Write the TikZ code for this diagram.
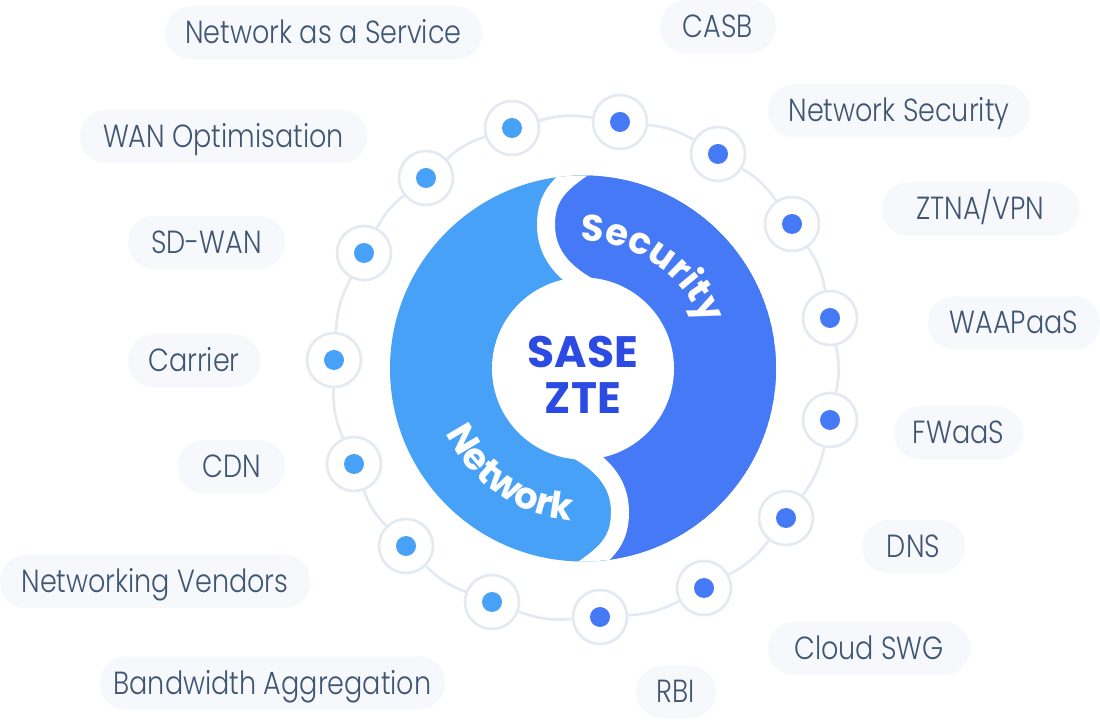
\documentclass[tikz,border=0pt]{standalone}
\usepackage{fontspec}
\usetikzlibrary{decorations.text,calc}
\newfontfamily\lblfont{Poppins Light}[FakeStretch=0.845]
\newfontfamily\boldfont{Poppins}
\definecolor{netblue}{HTML}{47A1F7}
\definecolor{secblue}{HTML}{4679F5}
\definecolor{coretext}{HTML}{2C4BE3}
\definecolor{ringgray}{HTML}{E3EAF2}
\definecolor{pillbg}{HTML}{F6F8FB}
\definecolor{lbltext}{HTML}{3F5673}
\tikzset{
  dotbase/.style={circle, draw=ringgray, line width=2.7pt, fill=white, minimum size=54pt, inner sep=0pt},
  dotL/.style={dotbase, path picture={\fill[netblue] (path picture bounding box.center) circle (10pt);}},
  dotR/.style={dotbase, path picture={\fill[secblue] (path picture bounding box.center) circle (10pt);}},
  pill/.style={fill=pillbg, rounded corners=26pt, minimum height=53pt, inner xsep=0pt, inner ysep=0pt,
    text=lbltext, text height=22pt, text depth=0pt, font=\lblfont\fontsize{32}{38}\selectfont},
  link/.style={draw=ringgray, line width=2.7pt},
  gap/.style={draw=white, line width=18pt}
}
\begin{document}
\begin{tikzpicture}[x=1pt,y=1pt]
\useasboundingbox (0,0) rectangle (1100,720);
\fill[white] (0,0) rectangle (1100,720);

% central ring
\coordinate (C) at (583,351.5);
\begin{scope}
  \clip (C) circle (193);
  \fill[netblue] (C) circle (193);
  \fill[secblue] (595,560) .. controls (560,538) and (546,525) .. (546,495)
    .. controls (546,465) and (565,445) .. (595,430) -- (571,273)
    .. controls (601,258) and (620,238) .. (620,208)
    .. controls (620,178) and (606,165) .. (571,143)
    -- (571,100) -- (820,100) -- (820,600) -- (595,600) -- cycle;
  \draw[gap] (595,560) .. controls (560,538) and (546,525) .. (546,495)
    .. controls (546,465) and (565,445) .. (595,430);
  \draw[gap] (571,143) .. controls (606,165) and (620,178) .. (620,208)
    .. controls (620,238) and (601,258) .. (571,273);
\end{scope}
\fill[white] (C) circle (91);

\path[decorate, decoration={text along path, text align=center, text color=white,
  text={|\boldfont\bfseries\fontsize{37}{42}\selectfont|Security}}]
  ($(C)+(98:127)$) arc[start angle=98, end angle=13, radius=127];
\path[decorate, decoration={text along path, text align=center, text color=white,
  text={|\boldfont\bfseries\fontsize{37}{42}\selectfont|Network}}]
  ($(C)+(193:152)$) arc[start angle=193, end angle=278, radius=152];

\node[font=\boldfont\bfseries\fontsize{44}{46}\selectfont, text=coretext, align=center] (core) at (583,345) {SASE\\ZTE};

% dots
\node[dotL] (d1) at (512,592) {};
\node[dotR] (d2) at (620,598) {};
\node[dotR] (d3) at (718,566) {};
\node[dotR] (d4) at (792,496) {};
\node[dotR] (d5) at (830,402) {};
\node[dotR] (d6) at (830,300) {};
\node[dotR] (d7) at (786,202) {};
\node[dotR] (d8) at (704,132) {};
\node[dotR] (d9) at (600,103) {};
\node[dotL] (d10) at (492,118) {};
\node[dotL] (d11) at (406,174) {};
\node[dotL] (d12) at (354,256) {};
\node[dotL] (d13) at (334,360) {};
\node[dotL] (d14) at (364,467) {};
\node[dotL] (d15) at (426,542) {};
\foreach \a/\b in {d1/d2,d2/d3,d3/d4,d4/d5,d5/d6,d6/d7,d7/d8,d8/d9,d9/d10,d10/d11,d11/d12,d12/d13,d13/d14,d14/d15,d15/d1}
  \draw[link] (\a) to[bend left=12] (\b);

% labels
\node[pill, minimum width=317pt] (p1) at (323.5,687) {Network as a Service};
\node[pill, minimum width=116pt] (p2) at (718,693.5) {CASB};
\node[pill, minimum width=262pt] (p3) at (899,609) {Network Security};
\node[pill, minimum width=287pt] (p4) at (223.5,583.5) {WAN Optimisation};
\node[pill, minimum width=197pt] (p5) at (980.5,511) {ZTNA/VPN};
\node[pill, minimum width=157pt] (p6) at (206.5,477.5) {SD-WAN};
\node[pill, minimum width=172pt] (p7) at (1014,397) {WAAPaaS};
\node[pill, minimum width=132pt] (p8) at (194,359) {Carrier};
\node[pill, minimum width=129pt] (p9) at (958.5,287) {FWaaS};
\node[pill, minimum width=107pt] (p10) at (231.5,253.5) {CDN};
\node[pill, minimum width=103pt] (p11) at (913.5,173.5) {DNS};
\node[pill, minimum width=310pt] (p12) at (155,138.5) {Networking Vendors};
\node[pill, minimum width=202pt] (p13) at (869,71.5) {Cloud SWG};
\node[pill, minimum width=345pt] (p14) at (272.5,37) {Bandwidth Aggregation};
\node[pill, minimum width=80pt] (p15) at (676,28) {RBI};
\end{tikzpicture}
\end{document}
